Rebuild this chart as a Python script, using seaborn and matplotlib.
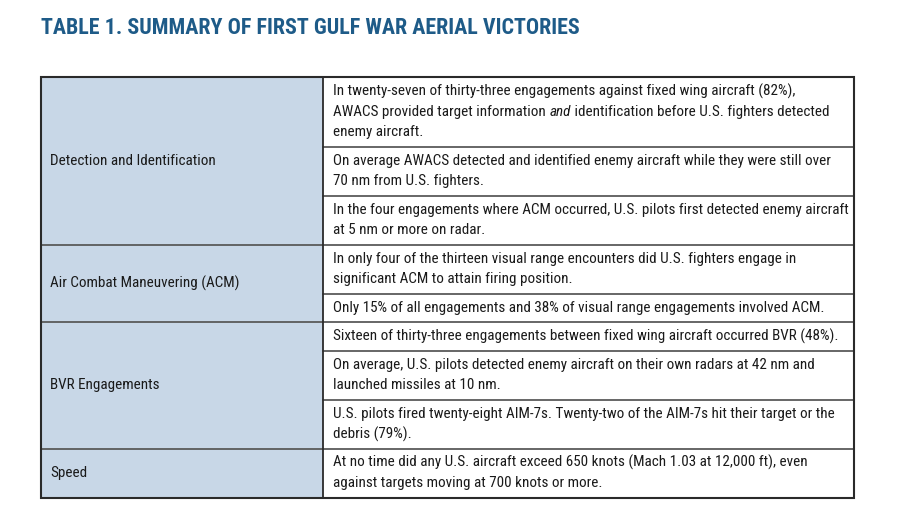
import matplotlib
matplotlib.use("Agg")
import matplotlib.pyplot as plt
import seaborn as sns
from matplotlib.patches import Rectangle

# --- table content ---
categories = ["Detection and Identification", "Air Combat Maneuvering (ACM)",
              "BVR Engagements", "Speed"]
findings = [
    [
        ["In twenty-seven of thirty-three engagements against fixed wing aircraft (82%),",
         "AWACS provided target information |and| identification before U.S. fighters detected",
         "enemy aircraft."],
        ["On average AWACS detected and identified enemy aircraft while they were still over",
         "70 nm from U.S. fighters."],
        ["In the four engagements where ACM occurred, U.S. pilots first detected enemy aircraft",
         "at 5 nm or more on radar."],
    ],
    [
        ["In only four of the thirteen visual range encounters did U.S. fighters engage in",
         "significant ACM to attain firing position."],
        ["Only 15% of all engagements and 38% of visual range engagements involved ACM."],
    ],
    [
        ["Sixteen of thirty-three engagements between fixed wing aircraft occurred BVR (48%)."],
        ["On average, U.S. pilots detected enemy aircraft on their own radars at 42 nm and",
         "launched missiles at 10 nm."],
        ["U.S. pilots fired twenty-eight AIM-7s. Twenty-two of the AIM-7s hit their target or the",
         "debris (79%)."],
    ],
    [
        ["At no time did any U.S. aircraft exceed 650 knots (Mach 1.03 at 12,000 ft), even",
         "against targets moving at 700 knots or more."],
    ],
]
title = "TABLE 1. SUMMARY OF FIRST GULF WAR AERIAL VICTORIES"

sns.set_theme(style="white")
plt.rcParams["font.family"] = ["Roboto Condensed", "DejaVu Sans"]

W, H = 897, 517
fig = plt.figure(figsize=(W / 100, H / 100), dpi=100)
ax = fig.add_axes([0, 0, 1, 1])
ax.set_xlim(0, W)
ax.set_ylim(H, 0)
ax.axis("off")
r = fig.canvas.get_renderer()

def px_width(t):
    return t.get_window_extent(renderer=r).width

def fit_size(s, target, base=10, **kw):
    t = ax.text(0, 0, s, fontsize=base, **kw)
    w = px_width(t)
    t.remove()
    return base * target / w

# fit font sizes to widths measured on the reference
fs = min(fit_size(findings[1][1][0], 496), fit_size(findings[0][2][0], 511))
tfs = fit_size(title, 540, base=14, fontweight="bold")

ax.text(41, 28.5, title, fontsize=tfs, fontweight="bold", color="#1e5b88",
        va="center", ha="left")

x0, xm, x1 = 41, 323, 854
top = 77
lh, pad = 20.5, 8
line_col, edge_col = "#5a5a5a", "#2a2a2a"
fill_col = "#c8d7e7"

def draw_line(x, y, s):
    # '|' marks italic segments
    parts = s.split("|")
    for i, p in enumerate(parts):
        if not p:
            continue
        t = ax.text(x, y, p, fontsize=fs, va="center", ha="left", color="#1a1a1a",
                    fontstyle="italic" if i % 2 else "normal")
        x += px_width(t)

y = top
for cat, rows in zip(categories, findings):
    g_top = y
    for lines in rows:
        h = pad + lh * len(lines)
        for k, s in enumerate(lines):
            draw_line(xm + 10, y + pad / 2 + lh * (k + 0.5), s)
        y += h
        ax.plot([xm, x1], [y, y], color=line_col, lw=1.3)
    ax.add_patch(Rectangle((x0, g_top), xm - x0, y - g_top, facecolor=fill_col,
                           edgecolor="none", zorder=0))
    ax.plot([x0, xm], [y, y], color=line_col, lw=1.3)
    ax.text(x0 + 9, (g_top + y) / 2, cat, fontsize=fs, va="center", ha="left",
            color="#1a1a1a")

bottom = y
ax.plot([xm, xm], [top, bottom], color=edge_col, lw=1.3)
ax.add_patch(Rectangle((x0, top), x1 - x0, bottom - top, facecolor="none",
                       edgecolor=edge_col, lw=1.5, zorder=3))

fig.savefig("out.png", dpi=100)
